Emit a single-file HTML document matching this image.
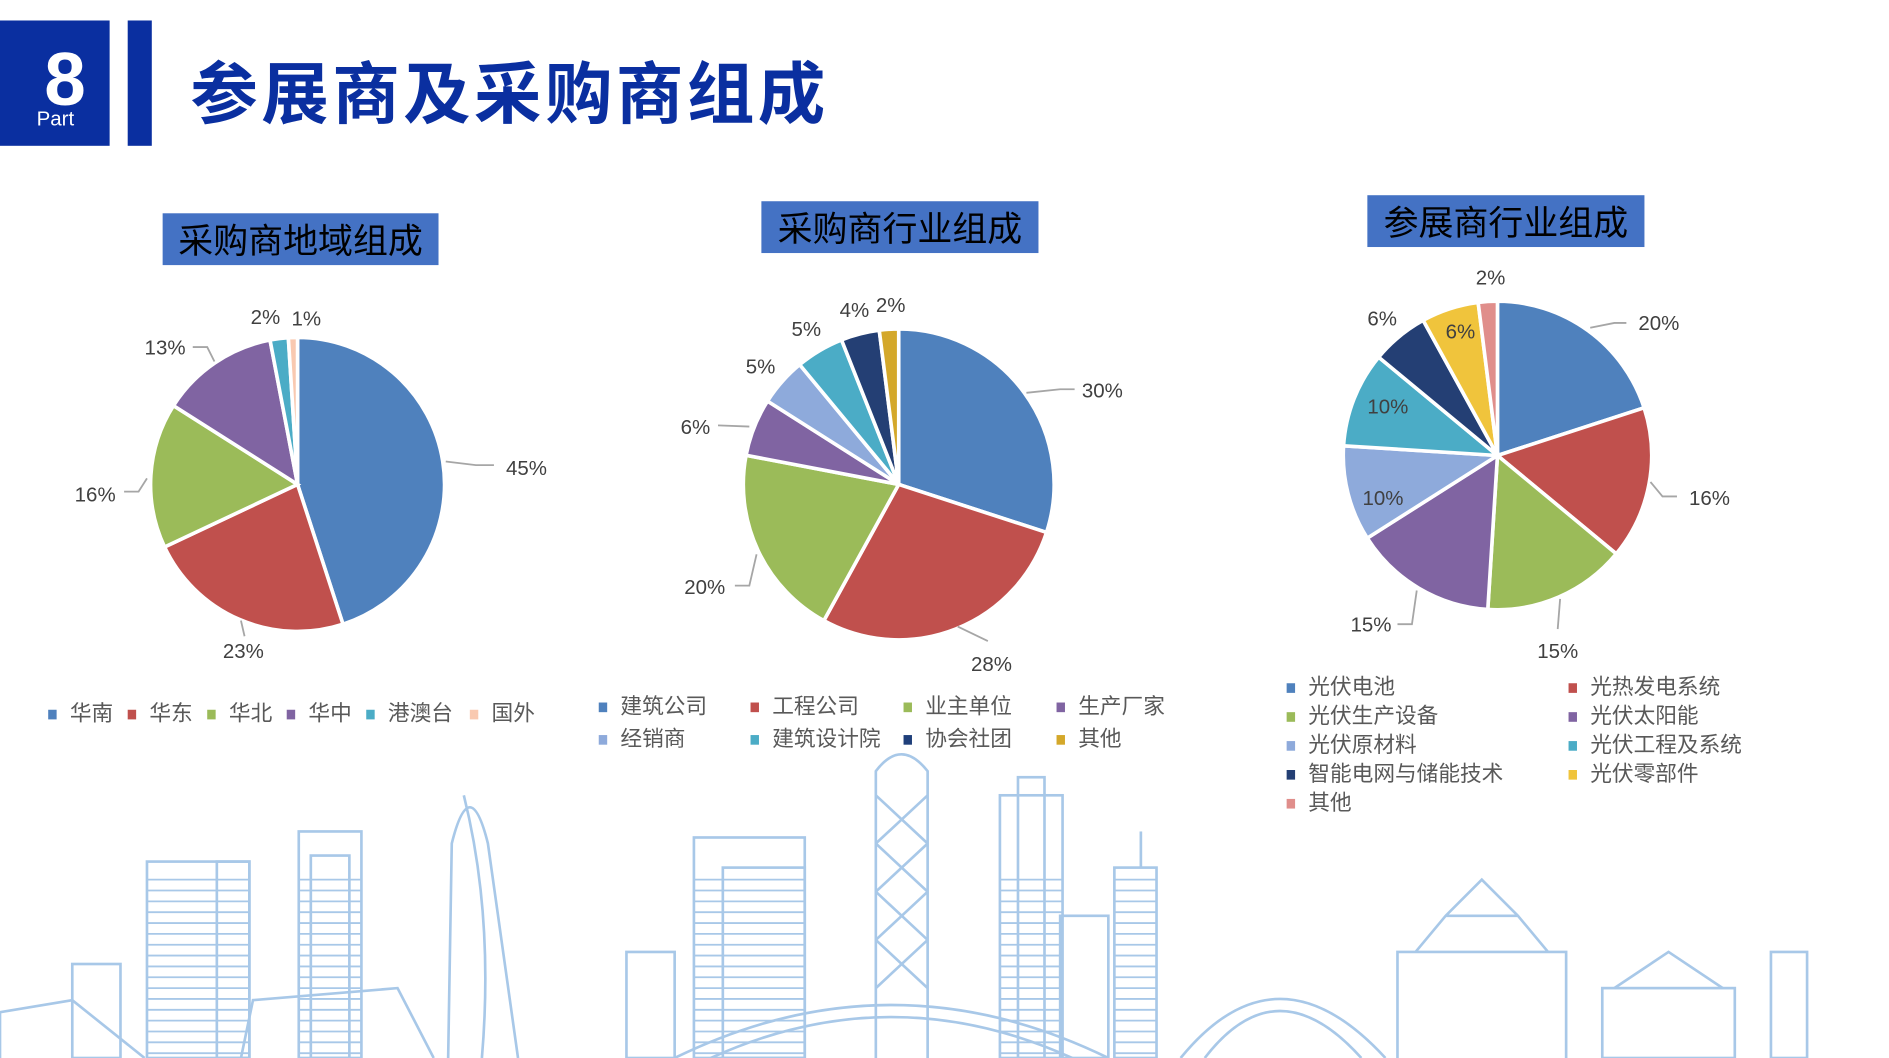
<!DOCTYPE html>
<html><head><meta charset="utf-8"><style>
html,body{margin:0;padding:0;background:#fff;}
svg{display:block}
text{font-family:"Liberation Sans","Noto Sans CJK SC",sans-serif;}
</style></head><body>
<svg id="s" width="1889" height="1058" viewBox="0 0 1568 878" preserveAspectRatio="none" xmlns="http://www.w3.org/2000/svg">
<rect width="1568" height="878" fill="#fff"/>
<g id="sky" fill="none" stroke="#a8c8e8" stroke-width="2.2">
<rect x="122" y="715" width="85" height="163"/><rect x="180" y="715" width="27" height="163"/>
<rect x="248" y="690" width="52" height="188"/><rect x="258" y="710" width="32" height="168"/>
<path d="M372 878 L375 700 Q390 640 405 700 L430 878"/><path d="M385 660 Q410 760 400 878"/>
<rect x="576" y="695" width="92" height="183"/><rect x="600" y="720" width="68" height="158"/>
<path d="M727 878 L727 640 Q748 612 770 640 L770 878"/><path d="M727 660 L770 700 M770 660 L727 700 M727 700 L770 740 M770 700 L727 740 M727 740 L770 780 M770 740 L727 780 M727 780 L770 820 M770 780 L727 820"/>
<rect x="830" y="660" width="52" height="218"/><rect x="845" y="645" width="22" height="233"/>
<rect x="925" y="720" width="35" height="158"/><path d="M947 720 L947 690"/>
<path d="M1160 878 L1160 790 L1300 790 L1300 878 M1175 790 L1200 760 L1260 760 L1285 790 M1200 760 L1230 730 L1260 760"/>
<path d="M980 878 Q1060 780 1150 878"/><path d="M1000 878 Q1060 800 1130 878"/>
<path d="M560 878 Q740 790 920 878"/><path d="M590 878 Q740 810 890 878"/>
<rect x="1330" y="820" width="110" height="58"/><path d="M1340 820 L1385 790 L1430 820"/>
<path d="M0 878 L0 840 L60 830 L120 878"/><path d="M200 878 L210 830 L330 820 L360 878"/>
<rect x="1470" y="790" width="30" height="88"/><rect x="880" y="760" width="40" height="118"/>
<rect x="520" y="790" width="40" height="88"/><rect x="60" y="800" width="40" height="78"/>
</g>
<g stroke="#a8c8e8" stroke-width="1.5" id="stripes"></g>
<rect x="0" y="17" width="91" height="104" fill="#0a2fa0"/>
<rect x="106" y="17" width="20" height="104" fill="#0a2fa0"/>
<text x="54" y="87" fill="#fff" font-size="62" font-weight="bold" text-anchor="middle">8</text>
<text x="46" y="104" fill="#fff" font-size="17" text-anchor="middle">Part</text>
<text x="158" y="98" fill="#0a2fa0" font-size="56" font-weight="bold" font-family="'Noto Sans CJK SC',sans-serif" textLength="527">参展商及采购商组成</text>
<rect x="135" y="177" width="229" height="43" fill="#4472c4"/>
<text x="249.5" y="210" font-size="29" text-anchor="middle" fill="#000">采购商地域组成</text>
<rect x="632" y="167" width="230" height="43" fill="#4472c4"/>
<text x="747" y="200" font-size="29" text-anchor="middle" fill="#000">采购商行业组成</text>
<rect x="1135" y="162" width="230" height="43" fill="#4472c4"/>
<text x="1250" y="195" font-size="29" text-anchor="middle" fill="#000">参展商行业组成</text>
<g id="pies"></g>
<g stroke="#a6a6a6" stroke-width="1.5" fill="none">
<path d="M370 383 L395 386 L410 386"/><path d="M200 515 L203 528"/><path d="M103 408 L115 408 L122 397"/><path d="M160 288 L172 288 L178 300"/>
<path d="M852 326 L880 323 L892 323"/><path d="M795 520 L820 532"/><path d="M610 486 L622 486 L628 460"/><path d="M596 353 L622 354"/>
<path d="M1320 272 L1340 268 L1350 268"/><path d="M1370 400 L1380 412 L1392 412"/><path d="M1295 497 L1293 522"/><path d="M1160 518 L1172 518 L1176 490"/>
</g>
<g font-size="17" fill="#404040">
<text x="420" y="394">45%</text><text x="185" y="546">23%</text><text x="62" y="416">16%</text><text x="120" y="294">13%</text><text x="208" y="269">2%</text><text x="242" y="270">1%</text>
<text x="898" y="330">30%</text><text x="806" y="557">28%</text><text x="568" y="493">20%</text><text x="565" y="360">6%</text><text x="619" y="310">5%</text><text x="657" y="279">5%</text><text x="697" y="263">4%</text><text x="727" y="259">2%</text>
<text x="1225" y="236">2%</text><text x="1360" y="274">20%</text><text x="1402" y="419">16%</text><text x="1276" y="546">15%</text><text x="1121" y="524">15%</text><text x="1131" y="419">10%</text><text x="1135" y="343">10%</text><text x="1135" y="270">6%</text><text x="1200" y="281">6%</text>
</g>
<g font-size="18" fill="#595959">
<rect x="40" y="589" width="7" height="8" fill="#4f81bd"/><text x="58" y="598">华南</text>
<rect x="106" y="589" width="7" height="8" fill="#c0504d"/><text x="124" y="598">华东</text>
<rect x="172" y="589" width="7" height="8" fill="#9bbb59"/><text x="190" y="598">华北</text>
<rect x="238" y="589" width="7" height="8" fill="#8064a2"/><text x="256" y="598">华中</text>
<rect x="304" y="589" width="7" height="8" fill="#4bacc6"/><text x="322" y="598">港澳台</text>
<rect x="390" y="589" width="7" height="8" fill="#f9c9b0"/><text x="408" y="598">国外</text>
<rect x="497" y="583" width="7" height="8" fill="#4f81bd"/><text x="515" y="592">建筑公司</text>
<rect x="623" y="583" width="7" height="8" fill="#c0504d"/><text x="641" y="592">工程公司</text>
<rect x="750" y="583" width="7" height="8" fill="#9bbb59"/><text x="768" y="592">业主单位</text>
<rect x="877" y="583" width="7" height="8" fill="#8064a2"/><text x="895" y="592">生产厂家</text>
<rect x="497" y="610" width="7" height="8" fill="#8eaadb"/><text x="515" y="619">经销商</text>
<rect x="623" y="610" width="7" height="8" fill="#4bacc6"/><text x="641" y="619">建筑设计院</text>
<rect x="750" y="610" width="7" height="8" fill="#1f3f7a"/><text x="768" y="619">协会社团</text>
<rect x="877" y="610" width="7" height="8" fill="#d4a82a"/><text x="895" y="619">其他</text>
<rect x="1068" y="567" width="7" height="8" fill="#4f81bd"/><text x="1086" y="576">光伏电池</text>
<rect x="1302" y="567" width="7" height="8" fill="#c0504d"/><text x="1320" y="576">光热发电系统</text>
<rect x="1068" y="591" width="7" height="8" fill="#9bbb59"/><text x="1086" y="600">光伏生产设备</text>
<rect x="1302" y="591" width="7" height="8" fill="#8064a2"/><text x="1320" y="600">光伏太阳能</text>
<rect x="1068" y="615" width="7" height="8" fill="#8eaadb"/><text x="1086" y="624">光伏原材料</text>
<rect x="1302" y="615" width="7" height="8" fill="#4bacc6"/><text x="1320" y="624">光伏工程及系统</text>
<rect x="1068" y="639" width="7" height="8" fill="#243f74"/><text x="1086" y="648">智能电网与储能技术</text>
<rect x="1302" y="639" width="7" height="8" fill="#f0c43c"/><text x="1320" y="648">光伏零部件</text>
<rect x="1068" y="663" width="7" height="8" fill="#e08e8b"/><text x="1086" y="672">其他</text>
</g>
</svg>
<script>
var NS="http://www.w3.org/2000/svg",g=document.getElementById("pies");
function pie(cx,cy,r,vals,cols){var a=0;for(var i=0;i<vals.length;i++){var a0=a/100*2*Math.PI,a1=(a+vals[i])/100*2*Math.PI;a+=vals[i];
var x0=cx+r*Math.sin(a0),y0=cy-r*Math.cos(a0),x1=cx+r*Math.sin(a1),y1=cy-r*Math.cos(a1);
var p=document.createElementNS(NS,"path");p.setAttribute("d","M"+cx+" "+cy+" L"+x0+" "+y0+" A"+r+" "+r+" 0 "+((a1-a0)>Math.PI?1:0)+" 1 "+x1+" "+y1+"Z");
p.setAttribute("fill",cols[i]);p.setAttribute("stroke","#fff");p.setAttribute("stroke-width","3");g.appendChild(p);}}
pie(247,402,122,[45,23,16,13,2,1],["#4f81bd","#c0504d","#9bbb59","#8064a2","#4bacc6","#f9c9b0"]);
pie(746,402,129,[30,28,20,6,5,5,4,2],["#4f81bd","#c0504d","#9bbb59","#8064a2","#8eaadb","#4bacc6","#243f74","#d4a82a"]);
pie(1243,378,128,[20,16,15,15,10,10,6,6,2],["#4f81bd","#c0504d","#9bbb59","#8064a2","#8eaadb","#4bacc6","#243f74","#f0c43c","#e08e8b"]);
var st=document.getElementById("stripes");
[[122,207],[248,300],[576,668],[830,882],[925,960]].forEach(function(b){for(var y=730;y<878;y+=9){var l=document.createElementNS(NS,"line");l.setAttribute("x1",b[0]);l.setAttribute("x2",b[1]);l.setAttribute("y1",y);l.setAttribute("y2",y);st.appendChild(l);}});
</script>
</body></html>
